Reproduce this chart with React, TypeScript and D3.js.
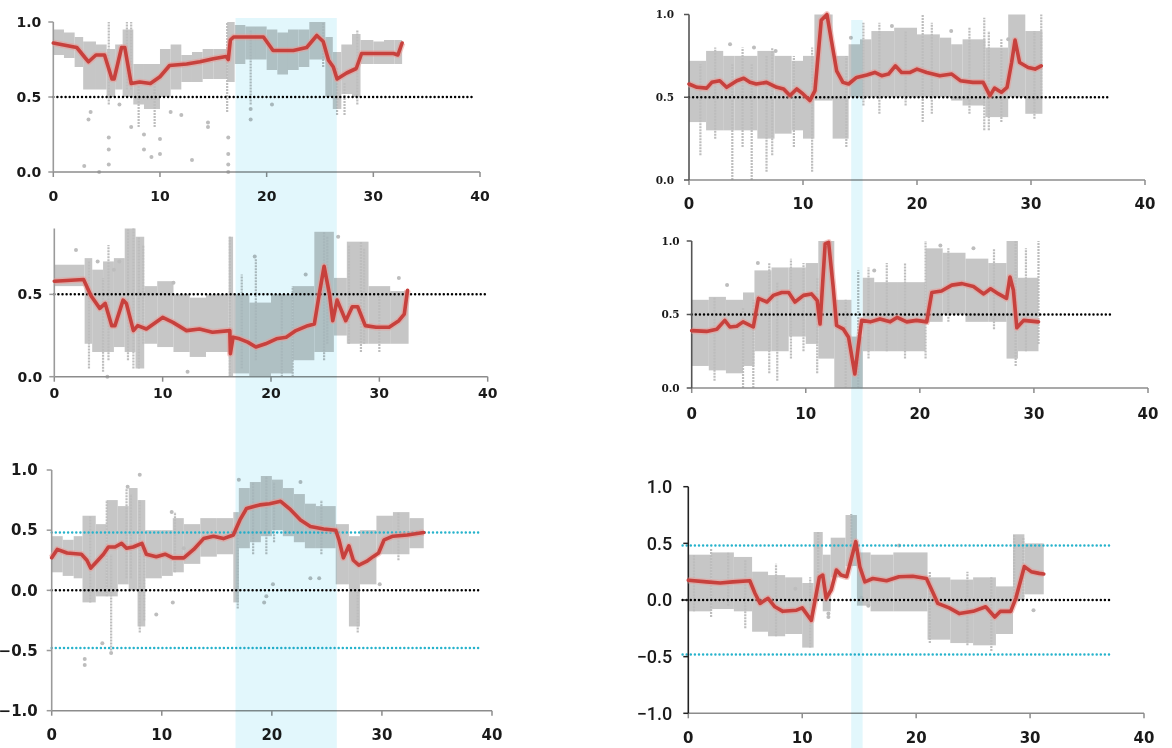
import React from "react";
import * as d3 from "d3";

type Pt = [number, number];
type Seg = [number, number, number, number]; // x0, x1, lo, hi
type Spike = [number, number, number]; // x, lo, hi

// tick values
const xTicks = [0, 10, 20, 30, 40];
const yTicksTop = [0, 0.5, 1];
const yTicksMid = [0, 0.5];
const yTicksCorr = [-1, -0.5, 0, 0.5, 1];

// shaded intervals (x units)
const leftBand: Pt = [16.7, 25.9];
const rightBand: Pt = [14.3, 15.3];

// ---- left column, top ----
const p1Red: Pt[] = [
  [0, 0.86], [2.2, 0.83], [3, 0.76], [3.3, 0.735], [4, 0.78], [4.8, 0.78], [5.5, 0.62], [5.7, 0.62],
  [6.4, 0.83], [6.7, 0.83], [7.3, 0.59], [8.1, 0.6], [9.1, 0.59], [10, 0.635], [10.9, 0.71], [12.5, 0.72],
  [13.75, 0.735], [15, 0.755], [16.2, 0.77], [16.4, 0.75], [16.6, 0.88], [16.9, 0.9], [19.7, 0.9], [20.6, 0.81],
  [22.5, 0.81], [23.75, 0.83], [24.7, 0.91], [25.3, 0.87], [25.8, 0.745], [26.25, 0.7], [26.6, 0.62], [27.5, 0.66],
  [28.4, 0.69], [28.9, 0.79], [30.6, 0.79], [31.9, 0.79], [32.3, 0.78], [32.7, 0.86],
];
const p1Cloud: Seg[] = [
  [0, 1, 0.78, 0.95], [1, 2, 0.76, 0.93], [2, 2.8, 0.7, 0.9], [2.8, 4, 0.55, 0.87], [4, 5, 0.55, 0.85],
  [5, 5.8, 0.5, 0.82], [5.8, 6.5, 0.55, 0.85], [6.5, 7.5, 0.5, 0.95], [7.5, 8.5, 0.45, 0.72], [8.5, 10, 0.42, 0.72],
  [10, 11, 0.5, 0.82], [11, 12, 0.55, 0.85], [12, 13, 0.6, 0.78], [13, 14, 0.6, 0.8], [14, 15, 0.62, 0.82],
  [15, 16.3, 0.62, 0.82], [16.3, 17, 0.6, 1.0], [17, 18, 0.72, 0.98], [18, 19, 0.75, 0.97], [19, 20, 0.75, 0.97],
  [20, 21, 0.68, 0.95], [21, 22, 0.65, 0.93], [22, 23, 0.68, 0.95], [23, 24, 0.7, 0.95], [24, 25.5, 0.75, 1.0],
  [25.5, 26.2, 0.5, 0.9], [26.2, 27, 0.42, 0.8], [27, 28, 0.52, 0.85], [28, 28.8, 0.5, 0.92], [28.8, 30, 0.72, 0.88],
  [30, 31, 0.72, 0.87], [31, 32, 0.72, 0.88], [32, 32.7, 0.72, 0.88],
];
const p1Spikes: Spike[] = [
  [5.2, 0.45, 1.0], [6.9, 0.55, 1.0], [7.3, 0.55, 1.0], [8, 0.3, 0.6], [9.5, 0.3, 0.6], [16.3, 0.4, 1.0],
  [18.5, 0.45, 0.95], [25.3, 0.7, 1.0], [26.6, 0.38, 0.7], [27.3, 0.38, 0.6], [28.5, 0.45, 0.95],
];
const p1Dots: Pt[] = [
  [2.9, 0.04], [5.2, 0.05], [5.2, 0.15], [5.2, 0.23], [4.3, 0.0], [7.3, 0.3], [8.5, 0.25], [8.5, 0.15],
  [9.2, 0.1], [10, 0.12], [10, 0.22], [13, 0.08], [14.5, 0.33], [14.5, 0.3], [16.4, 0.0], [16.4, 0.05],
  [16.4, 0.12], [16.4, 0.23], [18.5, 0.35], [18.5, 0.42], [20.5, 0.45], [3.5, 0.4], [3.3, 0.35],
  [6.2, 0.45], [12, 0.38], [11, 0.4],
];

// ---- left column, middle ----
const p2Red: Pt[] = [
  [0, 0.58], [2.7, 0.59], [3.4, 0.49], [4.2, 0.415], [4.7, 0.445], [5.3, 0.31], [5.6, 0.31], [6.35, 0.465],
  [6.65, 0.445], [7.3, 0.28], [7.7, 0.31], [8.5, 0.29], [10, 0.36], [10.95, 0.33], [12.2, 0.28], [13.4, 0.29],
  [14.6, 0.27], [16.2, 0.28], [16.25, 0.14], [16.5, 0.24], [17.1, 0.23], [17.85, 0.21], [18.6, 0.18], [19.5, 0.2],
  [20.5, 0.23], [21.4, 0.24], [22.3, 0.28], [23.4, 0.31], [24, 0.32], [24.45, 0.5], [24.9, 0.67], [25.4, 0.5],
  [25.7, 0.34], [26.1, 0.465], [26.9, 0.34], [27.5, 0.425], [28, 0.425], [28.7, 0.31], [29.7, 0.3], [30.9, 0.3],
  [31.8, 0.34], [32.3, 0.38], [32.6, 0.525],
];
const p2Cloud: Seg[] = [
  [0, 2.8, 0.55, 0.68], [2.8, 3.5, 0.2, 0.72], [3.5, 4.5, 0.15, 0.65], [4.5, 5.5, 0.15, 0.7], [5.5, 6.5, 0.18, 0.72],
  [6.5, 7.5, 0.15, 0.9], [7.5, 8.3, 0.05, 0.85], [8.3, 9.5, 0.2, 0.55], [9.5, 11, 0.18, 0.58], [11, 12.5, 0.15, 0.5],
  [12.5, 14, 0.12, 0.48], [14, 16.1, 0.15, 0.5], [16.1, 16.5, 0.0, 0.85], [16.5, 18, 0.02, 0.5], [18, 20, 0.0, 0.45],
  [20, 22, 0.02, 0.5], [22, 24, 0.1, 0.55], [24, 25.8, 0.15, 0.88], [25.8, 27, 0.25, 0.6], [27, 29, 0.2, 0.82],
  [29, 31, 0.2, 0.55], [31, 32.7, 0.2, 0.52],
];
const p2Spikes: Spike[] = [
  [3.2, 0.05, 0.7], [4.5, 0.03, 0.6], [5, 0.1, 0.8], [6.8, 0.1, 0.9], [7.3, 0.05, 0.9], [7.8, 0.05, 0.85],
  [8.2, 0.2, 0.8], [16.2, 0.0, 0.85], [17.3, 0.05, 0.62], [18.6, 0.1, 0.72], [21, 0.0, 0.5], [22, 0.0, 0.55],
  [24.9, 0.1, 0.88], [25.2, 0.2, 0.85], [27.2, 0.2, 0.8], [28.3, 0.15, 0.82], [28.6, 0.2, 0.78], [30, 0.15, 0.5],
];
const p2Dots: Pt[] = [
  [2, 0.77], [4, 0.7], [6, 0.7], [11, 0.57], [18.5, 0.73], [23.2, 0.62], [26.2, 0.85], [31.8, 0.6], [4.9, 0.0],
  [12.3, 0.03], [5.5, 0.65],
];

// ---- left column, bottom ----
const p3Red: Pt[] = [
  [0, 0.27], [0.5, 0.34], [1.4, 0.31], [2.7, 0.3], [3.2, 0.25], [3.55, 0.185], [4.1, 0.24], [4.7, 0.3],
  [5.15, 0.36], [5.75, 0.36], [6.35, 0.39], [6.8, 0.35], [7.4, 0.36], [8.2, 0.39], [8.6, 0.3], [9.5, 0.28],
  [10.3, 0.3], [11, 0.27], [12, 0.27], [12.9, 0.34], [13.8, 0.43], [14.7, 0.45], [15.6, 0.43], [16.5, 0.46],
  [17.1, 0.585], [17.7, 0.68], [18.9, 0.71], [19.8, 0.72], [20.8, 0.74], [21.7, 0.67], [22.6, 0.585], [23.5, 0.53],
  [24.7, 0.51], [25.8, 0.5], [26.1, 0.42], [26.5, 0.27], [27, 0.37], [27.4, 0.25], [27.9, 0.21], [28.6, 0.24],
  [29.2, 0.28], [29.7, 0.31], [30.2, 0.42], [31, 0.45], [32.3, 0.46], [33.8, 0.48],
];
const p3Cloud: Seg[] = [
  [0, 1, 0.15, 0.45], [1, 2, 0.12, 0.42], [2, 2.8, 0.1, 0.45], [2.8, 4, -0.1, 0.62], [4, 5, -0.05, 0.55],
  [5, 6, -0.05, 0.75], [6, 7, 0.05, 0.7], [7, 7.8, 0.0, 0.85], [7.8, 8.5, -0.3, 0.75], [8.5, 10, 0.1, 0.5],
  [10, 11, 0.12, 0.5], [11, 12, 0.15, 0.6], [12, 13.5, 0.22, 0.55], [13.5, 15, 0.28, 0.6], [15, 16.5, 0.3, 0.6],
  [16.5, 17, -0.1, 0.65], [17, 18, 0.35, 0.85], [18, 19, 0.4, 0.9], [19, 20, 0.45, 0.95], [20, 21, 0.5, 0.92],
  [21, 22, 0.45, 0.85], [22, 23, 0.4, 0.8], [23, 24, 0.35, 0.72], [24, 25.8, 0.35, 0.7], [25.8, 27, 0.05, 0.55],
  [27, 28, -0.3, 0.45], [28, 29.5, 0.05, 0.5], [29.5, 31, 0.3, 0.62], [31, 32.5, 0.3, 0.65], [32.5, 33.8, 0.35, 0.6],
];
const p3Spikes: Spike[] = [
  [3.5, -0.1, 0.62], [5, -0.05, 0.75], [5.4, -0.5, 0.3], [6.8, 0.1, 0.85], [7.2, 0.1, 0.8], [8, -0.35, 0.75],
  [8.4, -0.25, 0.3], [11.2, 0.15, 0.65], [16.9, -0.15, 0.55], [18.3, 0.3, 0.9], [19.5, 0.3, 0.95], [20.2, 0.4, 0.9],
  [24.5, 0.3, 0.75], [27.8, -0.35, 0.0], [31.5, 0.25, 0.65],
];
const p3Dots: Pt[] = [
  [3, -0.57], [3, -0.62], [4.6, -0.44], [5.4, -0.52], [8, 0.96], [6.9, 0.86], [17, 0.92], [19.5, -0.05],
  [20.1, 0.05], [22.6, 0.9], [23.5, 0.1], [24.3, 0.1], [29.8, 0.05], [10.9, 0.65], [12, 0.35], [9.5, -0.2],
  [11, -0.1], [19.3, -0.1],
];

// ---- right column, top ----
const p4Red: Pt[] = [
  [0, 0.58], [0.7, 0.56], [1.55, 0.555], [2, 0.59], [2.7, 0.6], [3.3, 0.56], [4.2, 0.6], [4.8, 0.615],
  [5.35, 0.59], [5.9, 0.58], [6.8, 0.59], [7.7, 0.56], [8.3, 0.55], [8.85, 0.51], [9.45, 0.55], [10, 0.52],
  [10.6, 0.48], [11.05, 0.54], [11.6, 0.965], [12.1, 1.0], [12.5, 0.84], [12.95, 0.66], [13.5, 0.59], [14, 0.58],
  [14.7, 0.62], [15.6, 0.635], [16.3, 0.65], [16.9, 0.63], [17.5, 0.64], [18.1, 0.69], [18.65, 0.65], [19.4, 0.65],
  [20, 0.67], [20.85, 0.65], [22, 0.63], [23.05, 0.64], [23.8, 0.6], [24.9, 0.59], [25.8, 0.59], [26.4, 0.51],
  [26.8, 0.555], [27.4, 0.53], [27.9, 0.56], [28.3, 0.71], [28.6, 0.845], [29, 0.71], [29.75, 0.68], [30.35, 0.67],
  [30.9, 0.69],
];
const p4Cloud: Seg[] = [
  [0, 1.5, 0.35, 0.72], [1.5, 3, 0.3, 0.78], [3, 4, 0.3, 0.75], [4, 6, 0.3, 0.75], [6, 7.5, 0.25, 0.78],
  [7.5, 9, 0.28, 0.75], [9, 10, 0.3, 0.72], [10, 11, 0.25, 0.75], [11, 12.6, 0.48, 1.0], [12.6, 14, 0.25, 0.75],
  [14, 15, 0.5, 0.82], [15, 16, 0.5, 0.85], [16, 18, 0.5, 0.9], [18, 20, 0.5, 0.92], [20, 22, 0.5, 0.88],
  [22, 23, 0.5, 0.86], [23, 24, 0.48, 0.82], [24, 26, 0.45, 0.85], [26, 28, 0.38, 0.8], [28, 29.5, 0.5, 1.0],
  [29.5, 31, 0.4, 0.9],
];
const p4Spikes: Spike[] = [
  [1, 0.15, 0.7], [2.3, 0.25, 0.8], [3.8, 0.0, 0.7], [4.7, 0.2, 0.8], [5.5, 0.0, 0.7], [6.8, 0.05, 0.75],
  [7.3, 0.15, 0.8], [9.2, 0.2, 0.75], [10.8, 0.05, 0.8], [13.8, 0.2, 0.75], [15.3, 0.45, 0.95], [16.7, 0.4, 0.95],
  [19, 0.45, 0.9], [20.5, 0.35, 1.0], [21.3, 0.4, 0.95], [24.6, 0.4, 0.92], [25.9, 0.3, 0.98], [26.3, 0.3, 0.9],
  [27.4, 0.35, 0.85], [30.3, 0.37, 0.9], [30.9, 0.5, 1.0],
];
const p4Dots: Pt[] = [[3.6, 0.82], [5.7, 0.8], [7.6, 0.78], [14.2, 0.86], [17.8, 0.93], [23, 0.9], [28, 0.85]];

// ---- right column, middle ----
const p5Red: Pt[] = [
  [0, 0.39], [1.3, 0.385], [2.2, 0.4], [2.9, 0.46], [3.35, 0.415], [3.95, 0.42], [4.5, 0.45], [5.4, 0.415],
  [5.85, 0.61], [6.6, 0.585], [7.15, 0.63], [7.9, 0.65], [8.5, 0.65], [9.05, 0.585], [9.8, 0.63], [10.5, 0.64],
  [11, 0.595], [11.25, 0.435], [11.7, 0.98], [12, 0.99], [12.4, 0.69], [12.7, 0.425], [13.3, 0.4], [13.75, 0.345],
  [14.3, 0.095], [14.6, 0.28], [14.9, 0.46], [15.65, 0.45], [16.5, 0.47], [17.4, 0.45], [18, 0.48], [18.85, 0.45],
  [19.7, 0.46], [20.6, 0.45], [21.05, 0.65], [21.9, 0.66], [22.8, 0.7], [23.7, 0.71], [24.7, 0.69], [25.6, 0.64],
  [26.2, 0.675], [26.9, 0.64], [27.6, 0.61], [27.9, 0.755], [28.2, 0.665], [28.5, 0.41], [29.1, 0.46], [30.4, 0.45],
];
const p5Cloud: Seg[] = [
  [0, 1.5, 0.15, 0.6], [1.5, 3, 0.12, 0.62], [3, 4.5, 0.1, 0.6], [4.5, 5.5, 0.15, 0.65], [5.5, 7, 0.25, 0.8],
  [7, 8.5, 0.25, 0.82], [8.5, 10, 0.35, 0.82], [10, 11.1, 0.3, 0.85], [11.1, 12.5, 0.2, 1.0], [12.5, 14, 0.0, 0.6],
  [14, 15, 0.0, 0.35], [15, 16, 0.25, 0.75], [16, 18, 0.25, 0.72], [18, 20.5, 0.25, 0.72], [20.5, 22, 0.45, 0.95],
  [22, 24, 0.5, 0.92], [24, 26, 0.45, 0.88], [26, 27.6, 0.45, 0.85], [27.6, 28.6, 0.2, 1.0], [28.6, 30.4, 0.25, 0.75],
];
const p5Spikes: Spike[] = [
  [2, 0.05, 0.62], [4.5, 0.0, 0.55], [5.4, 0.0, 0.6], [6.8, 0.1, 0.85], [7.5, 0.05, 0.72], [8.7, 0.2, 0.88],
  [9.8, 0.25, 0.85], [11, 0.1, 0.75], [13.5, 0.0, 0.6], [14.6, 0.0, 0.8], [15.5, 0.2, 0.82], [17.1, 0.25, 0.85],
  [18.7, 0.2, 0.85], [20.5, 0.2, 1.0], [22.5, 0.45, 0.95], [26.5, 0.4, 0.95], [28.4, 0.15, 1.0], [29.3, 0.25, 0.95],
  [30.4, 0.3, 1.0],
];
const p5Dots: Pt[] = [[3.1, 0.7], [5.8, 0.85], [16, 0.8], [21.8, 0.97], [24.7, 0.95]];

// ---- right column, bottom ----
const p6Red: Pt[] = [
  [0, 0.175], [1.6, 0.16], [2.8, 0.15], [3.9, 0.16], [5.4, 0.17], [5.85, 0.06], [6.3, -0.03], [7, 0.015],
  [7.6, -0.06], [8.3, -0.1], [9.5, -0.09], [10, -0.07], [10.8, -0.18], [11.5, 0.2], [11.8, 0.22], [12.1, 0.015],
  [12.55, 0.09], [13, 0.265], [13.4, 0.22], [13.9, 0.205], [14.7, 0.515], [15.05, 0.295], [15.5, 0.16], [16.2, 0.19],
  [17.4, 0.17], [18.5, 0.205], [19.7, 0.21], [20.9, 0.19], [21.5, 0.06], [21.9, -0.03], [22.9, -0.07], [23.8, -0.12],
  [25, -0.1], [26.1, -0.06], [26.9, -0.15], [27.4, -0.1], [28.3, -0.1], [28.75, 0.015], [29.5, 0.295], [30.1, 0.25],
  [30.8, 0.235], [31.2, 0.23],
];
const p6Cloud: Seg[] = [
  [0, 2, -0.1, 0.4], [2, 4, -0.08, 0.42], [4, 5.6, -0.1, 0.38], [5.6, 7, -0.28, 0.25], [7, 8.5, -0.32, 0.22],
  [8.5, 10, -0.3, 0.2], [10, 11, -0.42, 0.15], [11, 11.8, 0.0, 0.6], [11.8, 12.5, -0.1, 0.4], [12.5, 13.8, 0.2, 0.55],
  [13.8, 14.8, 0.3, 0.75], [14.8, 16, -0.05, 0.42], [16, 18, -0.1, 0.4], [18, 21, -0.1, 0.42], [21, 23, -0.35, 0.2],
  [23, 25, -0.38, 0.18], [25, 27, -0.4, 0.2], [27, 28.5, -0.3, 0.12], [28.5, 29.5, 0.0, 0.58], [29.5, 31.2, 0.05, 0.5],
];
const p6Spikes: Spike[] = [
  [0.5, -0.1, 0.4], [2, -0.15, 0.45], [3.5, -0.05, 0.42], [5, -0.25, 0.35], [7.7, -0.32, 0.32], [10.7, -0.42, 0.2],
  [11.4, 0.0, 0.6], [14.3, 0.3, 0.76], [21.2, -0.38, 0.25], [24.5, -0.4, 0.25], [26.6, -0.45, 0.2], [28.6, 0.0, 0.58],
  [29.4, 0.0, 0.55],
];
const p6Dots: Pt[] = [[12.3, -0.15], [12.3, -0.12], [15.8, -0.05], [15.2, 0.02], [18.5, 0.48], [9.4, 0.1], [30.3, -0.09]];

const GRAY = "#c6c6c6";
const RED = "#c7413d";
const CYAN = "#27b3cc";

type Ref = { y: number; color: string; from: number; to: number };
type Panel = {
  red: Pt[];
  cloud: Seg[];
  spikes: Spike[];
  dots: Pt[];
  refs: Ref[];
  xRange: Pt;
  yDomain: Pt;
  yRange: Pt;
  yTicks: number[];
  xLabelY: number;
  yFont: { family: string; size: number; weight: number; gap: number };
  xFont: number;
  yAxisColor: string;
};

const leftY = { family: "DejaVu Sans", size: 14, weight: 700, gap: 12 };
const panels: Panel[] = [
  {
    red: p1Red, cloud: p1Cloud, spikes: p1Spikes, dots: p1Dots,
    refs: [{ y: 0.5, color: "#000", from: 0, to: 39.5 }],
    xRange: [53.3, 480], yDomain: [0, 1], yRange: [172, 22], yTicks: yTicksTop, xLabelY: 201,
    yFont: leftY, xFont: 14, yAxisColor: "#9a9a9a",
  },
  {
    red: p2Red, cloud: p2Cloud, spikes: p2Spikes, dots: p2Dots,
    refs: [{ y: 0.5, color: "#000", from: 0, to: 40 }],
    xRange: [54.3, 487.7], yDomain: [0, 0.9], yRange: [376.7, 228.5], yTicks: yTicksMid, xLabelY: 398,
    yFont: leftY, xFont: 14, yAxisColor: "#9a9a9a",
  },
  {
    red: p3Red, cloud: p3Cloud, spikes: p3Spikes, dots: p3Dots,
    refs: [
      { y: 0.48, color: CYAN, from: 0, to: 39 },
      { y: 0, color: "#000", from: 0, to: 39 },
      { y: -0.48, color: CYAN, from: 0, to: 39 },
    ],
    xRange: [51.7, 492], yDomain: [-1, 1], yRange: [710.7, 470], yTicks: yTicksCorr, xLabelY: 740,
    yFont: { ...leftY, size: 15, gap: 14 }, xFont: 15, yAxisColor: "#9a9a9a",
  },
  {
    red: p4Red, cloud: p4Cloud, spikes: p4Spikes, dots: p4Dots,
    refs: [{ y: 0.5, color: "#000", from: 0, to: 37 }],
    xRange: [689, 1145], yDomain: [0, 1], yRange: [180, 14.5], yTicks: yTicksTop, xLabelY: 209,
    yFont: { family: "DejaVu Serif", size: 10.5, weight: 700, gap: 15 }, xFont: 15, yAxisColor: "#555",
  },
  {
    red: p5Red, cloud: p5Cloud, spikes: p5Spikes, dots: p5Dots,
    refs: [{ y: 0.5, color: "#000", from: 0, to: 37 }],
    xRange: [691.7, 1148], yDomain: [0, 1], yRange: [388, 241], yTicks: yTicksTop, xLabelY: 419,
    yFont: { family: "DejaVu Serif", size: 10.5, weight: 700, gap: 12 }, xFont: 15, yAxisColor: "#555",
  },
  {
    red: p6Red, cloud: p6Cloud, spikes: p6Spikes, dots: p6Dots,
    refs: [
      { y: 0.48, color: CYAN, from: -0.5, to: 37 },
      { y: 0, color: "#000", from: -0.5, to: 37 },
      { y: -0.48, color: CYAN, from: -0.5, to: 37 },
    ],
    xRange: [688.3, 1144], yDomain: [-1, 1], yRange: [713.3, 486.7], yTicks: yTicksCorr, xLabelY: 743,
    yFont: { family: "Roboto", size: 18, weight: 500, gap: 16 }, xFont: 15, yAxisColor: "#222",
  },
];

const scalesOf = (p: Panel) => ({
  x: d3.scaleLinear().domain([0, 40]).range(p.xRange),
  y: d3.scaleLinear().domain(p.yDomain).range(p.yRange),
});

function Back({ p }: { p: Panel }) {
  const { x, y } = scalesOf(p);
  const fmt = d3.format(".1f");
  const x0 = x(0);
  const yBase = y(p.yDomain[0]);
  return (
    <g>
      <g filter="url(#soft)">
        {p.cloud.map((s, i) => (
          <rect key={"c" + i} x={x(s[0])} width={x(s[1]) - x(s[0])} y={y(s[3])} height={y(s[2]) - y(s[3])} fill={GRAY} />
        ))}
        {p.spikes.map((s, i) => (
          <line key={"s" + i} x1={x(s[0])} x2={x(s[0])} y1={y(s[1])} y2={y(s[2])} stroke="#bdbdbd" strokeWidth={2.2}
            strokeDasharray="2 1" />
        ))}
        {p.dots.map((d, i) => (
          <circle key={"d" + i} cx={x(d[0])} cy={y(d[1])} r={2} fill="#bdbdbd" />
        ))}
      </g>
      {p.refs.map((r, i) => (
        <line key={"r" + i} x1={x(r.from)} x2={x(r.to)} y1={y(r.y)} y2={y(r.y)} stroke={r.color}
          strokeWidth={2.5} strokeDasharray="0 4.1" strokeLinecap="round" />
      ))}
      {/* x axis */}
      <line x1={x0} x2={x(40)} y1={yBase} y2={yBase} stroke="#8c8c8c" strokeWidth={1.5} />
      {xTicks.map((t) => (
        <g key={"xt" + t}>
          <line x1={x(t)} x2={x(t)} y1={yBase} y2={yBase + 5} stroke="#8c8c8c" strokeWidth={1.5} />
          <text x={x(t)} y={p.xLabelY} textAnchor="middle" fontFamily="DejaVu Sans" fontWeight={700}
            fontSize={p.xFont} fill="#1a1a1a">{t}</text>
        </g>
      ))}
      {/* y axis */}
      <line x1={x0} x2={x0} y1={y(p.yDomain[1])} y2={yBase} stroke={p.yAxisColor} strokeWidth={1.6} />
      {p.yTicks.map((t) => (
        <g key={"yt" + t}>
          <line x1={x0 - 5} x2={x0} y1={y(t)} y2={y(t)} stroke={p.yAxisColor} strokeWidth={1.5} />
          <text x={x0 - p.yFont.gap} y={y(t)} dy="0.35em" textAnchor="end" fontFamily={p.yFont.family}
            fontWeight={p.yFont.weight} fontSize={p.yFont.size} fill="#1a1a1a">{fmt(t)}</text>
        </g>
      ))}
    </g>
  );
}

function Trend({ p }: { p: Panel }) {
  const { x, y } = scalesOf(p);
  const line = d3.line<Pt>().x((d) => x(d[0])).y((d) => y(d[1])).curve(d3.curveLinear);
  const path = line(p.red) || "";
  return (
    <g>
      <path d={path} fill="none" stroke="#eb9a96" strokeOpacity={0.55} strokeWidth={6.5} strokeLinejoin="round" />
      <path d={path} fill="none" stroke={RED} strokeWidth={3.6} strokeLinejoin="round" strokeLinecap="round" />
    </g>
  );
}

export default function App() {
  const xl = scalesOf(panels[2]).x;
  const xr = scalesOf(panels[5]).x;
  return (
    <div style={{ position: "absolute", left: 0, top: 0 }}>
      <svg width={1172} height={748} style={{ display: "block", background: "#fff" }}>
        <defs>
          <filter id="soft" x="-5%" y="-5%" width="110%" height="110%">
            <feGaussianBlur stdDeviation="0.7" />
          </filter>
        </defs>
        {panels.map((p, i) => <Back key={i} p={p} />)}
        <rect x={xl(leftBand[0])} width={xl(leftBand[1]) - xl(leftBand[0])} y={18} height={730}
          fill="#e2f7fc" style={{ mixBlendMode: "multiply" }} />
        <rect x={xr(rightBand[0])} width={xr(rightBand[1]) - xr(rightBand[0])} y={20} height={728}
          fill="#e2f7fc" style={{ mixBlendMode: "multiply" }} />
        {panels.map((p, i) => <Trend key={i} p={p} />)}
      </svg>
    </div>
  );
}
